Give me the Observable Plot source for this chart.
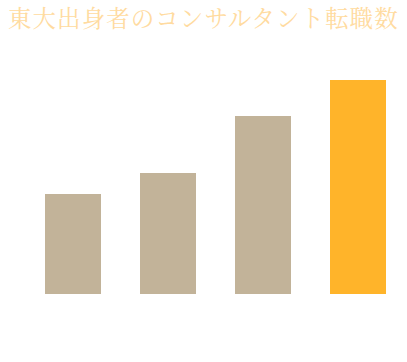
<!DOCTYPE html>
<html>
<head>
<meta charset="utf-8">
<script src="https://cdn.jsdelivr.net/npm/d3@7"></script>
<script src="https://cdn.jsdelivr.net/npm/@observablehq/plot@0.6"></script>
<style>
  html, body { margin: 0; padding: 0; background: #fff; width: 407px; height: 362px; overflow: hidden; }
  #title {
    height: 40px; box-sizing: border-box; padding: 4px 0 0 8px;
    font-family: "Noto Serif CJK JP", serif, "Noto Sans CJK JP";
    font-size: 23.5px; line-height: 26px; color: #ffdba0; white-space: nowrap; letter-spacing: 1.05px;
  }
</style>
</head>
<body>
<div id="title">東大出身者のコンサルタント転職数</div>
<div id="chart"></div>
<script>
const categories = ["A", "B", "C", "D"];
const values = [100, 121, 178, 214];
const colors = ["#c2b399", "#c2b399", "#c2b399", "#ffb42a"];

const data = categories.map((c, i) => ({cat: c, value: values[i], color: colors[i]}));

const chart = Plot.plot({
  width: 407,
  height: 322,
  marginTop: 40,
  marginBottom: 68,
  marginLeft: 43.5,
  marginRight: 19.5,
  x: {domain: categories, paddingInner: 0.412, paddingOuter: 0, axis: null},
  y: {domain: [0, 214], axis: null},
  marks: [
    Plot.barY(data, {x: "cat", y: "value", fill: "color"})
  ]
});
document.getElementById("chart").appendChild(chart);
</script>
</body>
</html>
